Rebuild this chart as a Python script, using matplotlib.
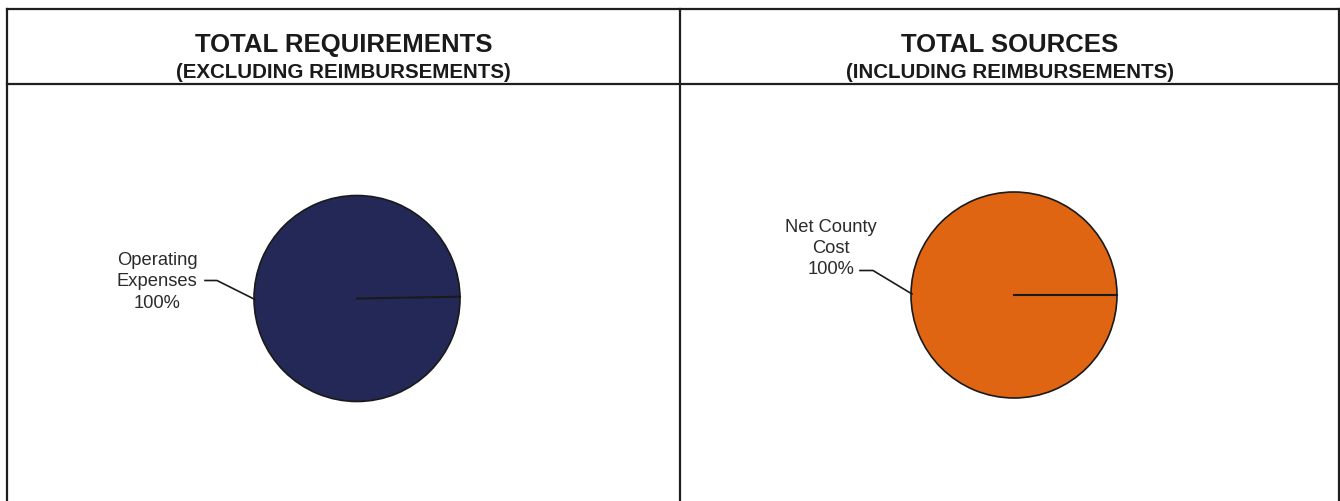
import math
import matplotlib.pyplot as plt

plt.rcParams['font.family'] = ['Liberation Sans', 'DejaVu Sans']

# data
titulos = ['TOTAL REQUIREMENTS', 'TOTAL SOURCES']
subtitulos = ['(EXCLUDING REIMBURSEMENTS)', '(INCLUDING REIMBURSEMENTS)']
rotulos = ['Operating\nExpenses', 'Net County\nCost']
valores = [100, 100]
cores = ['#232857', '#DF6513']

fig = plt.figure(figsize=(13.4, 5.02), dpi=100)
ax = fig.add_axes([0, 0, 1, 1])

# layout (pixels)
centros = [(357, 299.5), (1014, 296)]
raio = 103
inicio = [1.0, 0]
pos_texto = [(157, 282), (831, 248.5)]
leader = [[(205, 281.5), (217, 281.5), (255, 300.5)],
          [(860, 271.5), (873, 271.5), (912, 295)]]
meio = [343.5, 1009.5]

for i in range(2):
    ax.pie([valores[i]], colors=[cores[i]], center=centros[i], radius=raio,
           startangle=-inicio[i],
           wedgeprops={'edgecolor': '#1a1a1a', 'linewidth': 1.2})
    cx, cy = centros[i]
    a = math.radians(inicio[i])
    ax.plot([cx, cx + raio * math.cos(a)], [cy, cy - raio * math.sin(a)],
            color='#1a1a1a', lw=1.5)
    ax.text(pos_texto[i][0], pos_texto[i][1],
            rotulos[i] + '\n' + str(valores[i]) + '%',
            ha='center', va='center', fontsize=13.2, color='#2b2b2b',
            linespacing=1.32)
    xs = [p[0] for p in leader[i]]
    ys = [p[1] for p in leader[i]]
    ax.plot(xs, ys, color='#1a1a1a', lw=1.2)
    ax.text(meio[i], 45, titulos[i], ha='center', va='center',
            fontsize=18.5, fontweight='bold', color='#1a1a1a')
    ax.text(meio[i], 72.5, subtitulos[i], ha='center', va='center',
            fontsize=14.8, fontweight='bold', color='#1a1a1a')

# bordas
cor_borda = '#1e1e1e'
ax.plot([7, 1339], [10, 10], color=cor_borda, lw=1.6, solid_capstyle='projecting')
ax.plot([7, 1339], [84.5, 84.5], color=cor_borda, lw=1.6)
ax.plot([7, 7], [10, 502], color=cor_borda, lw=1.6)
ax.plot([680, 680], [10, 502], color=cor_borda, lw=1.6)
ax.plot([1338.5, 1338.5], [10, 502], color=cor_borda, lw=1.6)

ax.set_xlim(0, 1340)
ax.set_ylim(502, 0)
ax.set_aspect('equal')
ax.axis('off')

fig.savefig('out.png', dpi=100)
